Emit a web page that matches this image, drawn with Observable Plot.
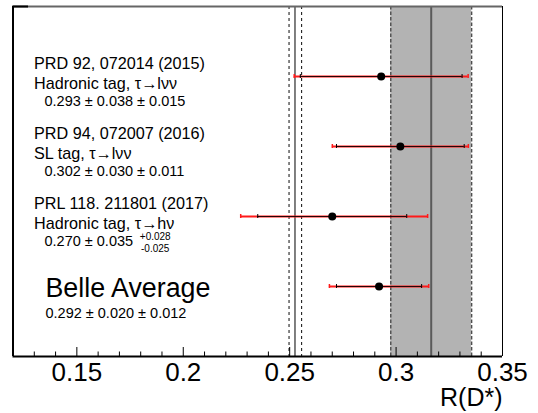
<!DOCTYPE html>
<html><head><meta charset="utf-8">
<script src="https://cdn.jsdelivr.net/npm/d3@7"></script>
<script src="https://cdn.jsdelivr.net/npm/@observablehq/plot@0.6"></script>
<style>html,body{margin:0;padding:0;background:#fff} svg{display:block}</style>
</head><body><div id="chart"></div>
<script>
// ---- data ----
const rows = [1, 2, 3, 4];
const refs = ["PRD 92, 072014 (2015)", "PRD 94, 072007 (2016)", "PRL 118. 211801 (2017)", ""];
const tags = ["Hadronic tag, τ→lνν", "SL tag, τ→lνν", "Hadronic tag, τ→hν", ""];
const values = [0.293, 0.302, 0.270, 0.292];
const statErr = [0.038, 0.030, 0.035, 0.020];
const systUp = [0.015, 0.011, 0.028, 0.012];
const systDown = [0.015, 0.011, 0.025, 0.012];
const valueLabels = ["0.293 ± 0.038 ± 0.015", "0.302 ± 0.030 ± 0.011", "0.270 ± 0.035", "0.292 ± 0.020 ± 0.012"];
const supLabels = ["", "", "+0.028", ""];
const subLabels = ["", "", "-0.025", ""];
const averageTitle = "Belle Average";
const smLines = [0.2497, 0.2556];   // dashed
const smCentral = [0.2525];         // solid
const avgBand = [{lo: 0.2975, hi: 0.3355}];
const avgCentral = [0.3165];
const xDomain = [0.12, 0.35];
const majorTicks = [0.15, 0.2, 0.25, 0.3, 0.35];
const minorTicks = [0.13, 0.14, 0.16, 0.17, 0.18, 0.19, 0.21, 0.22, 0.23, 0.24, 0.26, 0.27, 0.28, 0.29, 0.31, 0.32, 0.33, 0.34];
const xTitle = "R(D*)";

// ---- table built from the arrays ----
const table = rows.map((r, i) => ({
  row: r, ref: refs[i], tag: tags[i], value: values[i], label: valueLabels[i],
  sup: supLabels[i], sub: subLabels[i],
  statLo: values[i] - statErr[i], statHi: values[i] + statErr[i],
  totLo: values[i] - Math.hypot(statErr[i], systDown[i]),
  totHi: values[i] + Math.hypot(statErr[i], systUp[i])
}));
const measurements = table.slice(0, 3);
const average = table.slice(3);

const FONT = "'Liberation Sans', Arial, Helvetica, sans-serif";
const RED = "#ff1a1a";

const capsTot = table.flatMap(d => [{x: d.totLo, row: d.row}, {x: d.totHi, row: d.row}]);
const capsStat = table.flatMap(d => [{x: d.statLo, row: d.row}, {x: d.statHi, row: d.row}]);

const chart = Plot.plot({
  width: 538, height: 413,
  marginLeft: 12.5, marginRight: 36, marginTop: 6, marginBottom: 57,
  x: {domain: xDomain},
  y: {domain: [0, 5], reverse: true, axis: null},
  style: {fontFamily: FONT, background: "#fff", color: "#000"},
  marks: [
    // average band
    Plot.rect(avgBand, {x1: "lo", x2: "hi", fill: "#b3b3b3"}),
    Plot.ruleX(avgBand.flatMap(d => [d.lo, d.hi]), {stroke: "#4d4d4d", strokeWidth: 1.4, strokeDasharray: "3.5,2"}),
    Plot.ruleX(avgCentral, {stroke: "#5a5a5a", strokeWidth: 2}),
    // SM prediction
    Plot.ruleX(smLines, {stroke: "#222", strokeWidth: 1.1, strokeDasharray: "3,3"}),
    Plot.ruleX(smCentral, {stroke: "#000", strokeWidth: 1}),
    // frame
    Plot.ruleY([0], {stroke: "#666", strokeWidth: 2}),
    Plot.ruleY([0], {x1: 0.12, x2: 0.1273, stroke: "#000", strokeWidth: 2}),
    Plot.ruleX([xDomain[0]], {stroke: "#000", strokeWidth: 2}),
    Plot.ruleX([xDomain[1]], {stroke: "#000", strokeWidth: 1}),
    Plot.ruleY([5], {stroke: "#000", strokeWidth: 2}),
    // tick marks (inside, from the bottom)
    Plot.ruleX(majorTicks, {stroke: "#000", strokeWidth: 1, insetTop: 341}),
    Plot.ruleX(minorTicks, {stroke: "#000", strokeWidth: 1, insetTop: 345.5}),
    // error bars
    Plot.ruleY(table, {y: "row", x1: "totLo", x2: "totHi", stroke: RED, strokeWidth: 2}),
    Plot.ruleX(capsTot, {x: "x", y1: "row", y2: "row", insetTop: -2, insetBottom: -2, stroke: RED, strokeWidth: 1.5}),
    Plot.ruleY(table, {y: "row", x1: "statLo", x2: "statHi", stroke: "#000", strokeWidth: 1.1, strokeOpacity: 0.85}),
    Plot.ruleX(capsStat, {x: "x", y1: "row", y2: "row", insetTop: -2, insetBottom: -2, stroke: "#000", strokeWidth: 1}),
    Plot.dot(table, {x: "value", y: "row", r: 4, fill: "#000", stroke: null}),
    // text
    Plot.text(measurements, {y: "row", text: "ref", frameAnchor: "left", dx: 21, dy: -7.7, textAnchor: "start", lineAnchor: "bottom", fontSize: 16.2, fill: "#000"}),
    Plot.text(measurements, {y: "row", text: "tag", frameAnchor: "left", dx: 21, dy: 12.3, textAnchor: "start", lineAnchor: "bottom", fontSize: 16.2, fill: "#000"}),
    Plot.text(measurements, {y: "row", text: "label", frameAnchor: "left", dx: 31.5, dy: 29.3, textAnchor: "start", lineAnchor: "bottom", fontSize: 14.5, fill: "#000"}),
    Plot.text(measurements.filter(d => d.sup), {y: "row", text: "sup", frameAnchor: "left", dx: 126.8, dy: 23.3, textAnchor: "start", lineAnchor: "bottom", fontSize: 10, fill: "#000"}),
    Plot.text(measurements.filter(d => d.sub), {y: "row", text: "sub", frameAnchor: "left", dx: 128, dy: 35.3, textAnchor: "start", lineAnchor: "bottom", fontSize: 10, fill: "#000"}),
    Plot.text(average, {y: "row", text: () => averageTitle, frameAnchor: "left", dx: 32.5, dy: 10.5, textAnchor: "start", lineAnchor: "bottom", fontSize: 26.8, fill: "#000"}),
    Plot.text(average, {y: "row", text: "label", frameAnchor: "left", dx: 32.5, dy: 31.6, textAnchor: "start", lineAnchor: "bottom", fontSize: 14.5, fill: "#000"}),
    // axis labels and title
    Plot.axisX(majorTicks, {anchor: "bottom", tickSize: 0, tickPadding: 6.5, fontSize: 26, tickFormat: d => String(d), label: null, fill: "#000"}),
    Plot.text([xTitle], {text: d => d, frameAnchor: "bottom-right", dy: 49, textAnchor: "end", lineAnchor: "bottom", fontSize: 25, fill: "#000"})
  ]
});
document.getElementById("chart").appendChild(chart);
</script>
</body></html>
